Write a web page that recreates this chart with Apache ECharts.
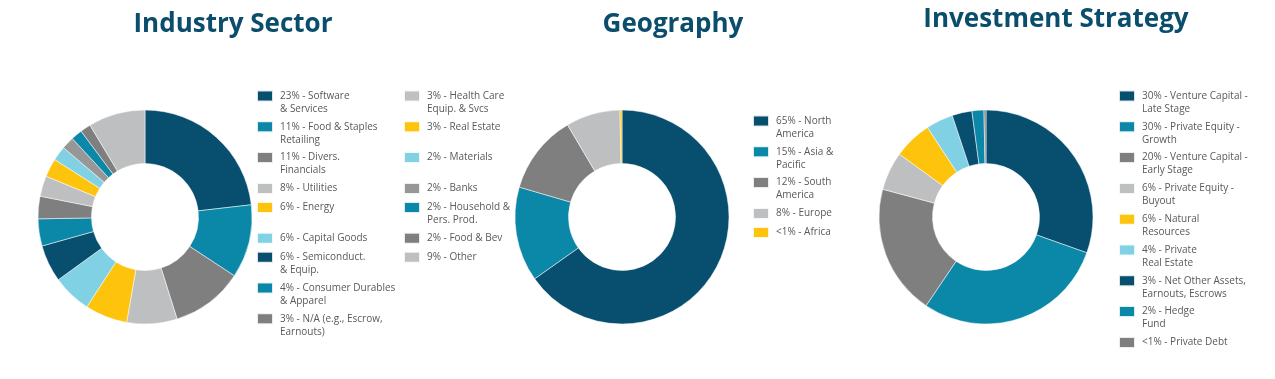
<!DOCTYPE html>
<html>
<head>
<meta charset="utf-8">
<script src="https://cdn.jsdelivr.net/npm/echarts@6/dist/echarts.min.js"></script>
<style>
html,body{margin:0;padding:0;background:#fff;}
#chart{width:1275px;height:379px;}
</style>
</head>
<body>
<div id="chart"></div>
<script>
// ---------------- DATA ----------------
const industryTitle = 'Industry Sector';
const industryNames = [
  '23% - Software\n& Services',
  '11% - Food & Staples\nRetailing',
  '11% - Divers.\nFinancials',
  '8% - Utilities',
  '6% - Energy',
  '6% - Capital Goods',
  '6% - Semiconduct.\n& Equip.',
  '4% - Consumer Durables\n& Apparel',
  '3% - N/A (e.g., Escrow,\nEarnouts)',
  '3% - Health Care\nEquip. & Svcs',
  '3% - Real Estate',
  '2% - Materials',
  '2% - Banks',
  '2% - Household &\nPers. Prod.',
  '2% - Food & Bev',
  '9% - Other'
];
const industryValues = [23.2, 11.1, 10.9, 7.6, 6.4, 5.9, 5.6, 4.1, 3.4, 3.1, 2.8, 2.2, 1.9, 1.7, 1.6, 8.6];

const geographyTitle = 'Geography';
const geographyNames = [
  '65% - North\nAmerica',
  '15% - Asia &\nPacific',
  '12% - South\nAmerica',
  '8% - Europe',
  '<1% - Africa'
];
const geographyValues = [65.2, 14.3, 12.0, 8.2, 0.3];

const strategyTitle = 'Investment Strategy';
const strategyNames = [
  '30% - Venture Capital -\nLate Stage',
  '30% - Private Equity -\nGrowth',
  '20% - Venture Capital -\nEarly Stage',
  '6% - Private Equity -\nBuyout',
  '6% - Natural\nResources',
  '4% - Private\nReal Estate',
  '3% - Net Other Assets,\nEarnouts, Escrows',
  '2% - Hedge\nFund',
  '<1% - Private Debt'
];
const strategyValues = [30.4, 29.0, 19.7, 5.8, 5.8, 4.1, 3.0, 1.8, 0.3];

// ---------------- STYLE ----------------
const C = {
  navy: '#074e6f', teal: '#0b87a7', gray: '#7f7f7f', lgray: '#bebfc1',
  yellow: '#fec40d', lblue: '#80d1e4', mgray: '#979797'
};
const industryColors = [C.navy, C.teal, C.gray, C.lgray, C.yellow, C.lblue, C.navy, C.teal, C.gray,
  C.lgray, C.yellow, C.lblue, C.mgray, C.teal, C.gray, C.lgray];
const geographyColors = [C.navy, C.teal, C.gray, C.lgray, C.yellow];
const strategyColors = [C.navy, C.teal, C.gray, C.lgray, C.yellow, C.lblue, C.navy, C.teal, C.gray];

const charts = [
  { title: industryTitle, names: industryNames, values: industryValues, colors: industryColors,
    center: [145, 217], titleX: 233, titleTop: 12, colX: [256, 403], split: 9, firstIcon: 96 },
  { title: geographyTitle, names: geographyNames, values: geographyValues, colors: geographyColors,
    center: [622, 217], titleX: 673, titleTop: 12, colX: [752], split: 99, firstIcon: 121 },
  { title: strategyTitle, names: strategyNames, values: strategyValues, colors: strategyColors,
    center: [986, 217], titleX: 1056, titleTop: 7, colX: [1118], split: 99, firstIcon: 96 }
];

const PITCH2 = 30.8, PITCH1 = 19, ICON_W = 16, ICON_H = 11, LINE_H = 13;
const lines = s => s.split('\n').length;

const titles = [], series = [], legends = [];
charts.forEach(ch => {
  titles.push({
    text: ch.title, left: ch.titleX, top: ch.titleTop, textAlign: 'center', padding: 0,
    textStyle: { fontFamily: 'Open Sans', fontWeight: 'bold', fontSize: 26, color: '#0b4d6c' }
  });
  series.push({
    type: 'pie', center: ch.center, radius: [53.5, 107], startAngle: 90, clockwise: true,
    label: { show: false }, labelLine: { show: false }, silent: true,
    itemStyle: { borderColor: 'rgba(255,255,255,0.85)', borderWidth: 0.6 },
    data: ch.names.map((n, i) => ({ name: n, value: ch.values[i], itemStyle: { color: ch.colors[i] } }))
  });
  const cols = [ch.names.slice(0, ch.split), ch.names.slice(ch.split)];
  const nRows = Math.max(cols[0].length, cols[1].length);
  let y = ch.firstIcon;
  for (let r = 0; r < nRows; r++) {
    let maxL = 1;
    cols.forEach(col => { if (col[r]) maxL = Math.max(maxL, lines(col[r])); });
    cols.forEach((col, ci) => {
      const nm = col[r];
      if (!nm) return;
      const nl = lines(nm);
      legends.push({
        data: [nm], left: ch.colX[ci], top: y - ICON_H / 2 - (nl === 2 ? 14 : 1),
        orient: 'vertical', icon: 'rect', itemWidth: ICON_W, itemHeight: ICON_H, padding: 0,
        selectedMode: false,
        // a blank leading line keeps the first text line level with the colour box
        formatter: nl === 2 ? (n => '\u00a0\n' + n) : (n => n),
        textStyle: { fontFamily: 'Open Sans', fontSize: 10, color: '#595959', lineHeight: LINE_H,
          padding: [0, 0, 0, 2] }
      });
    });
    y += maxL === 2 ? PITCH2 : PITCH1;
  }
});

const chart = echarts.init(document.getElementById('chart'), null, { renderer: 'canvas' });
chart.setOption({
  animation: false,
  backgroundColor: '#ffffff',
  title: titles,
  legend: legends,
  series: series
});
</script>
</body>
</html>
